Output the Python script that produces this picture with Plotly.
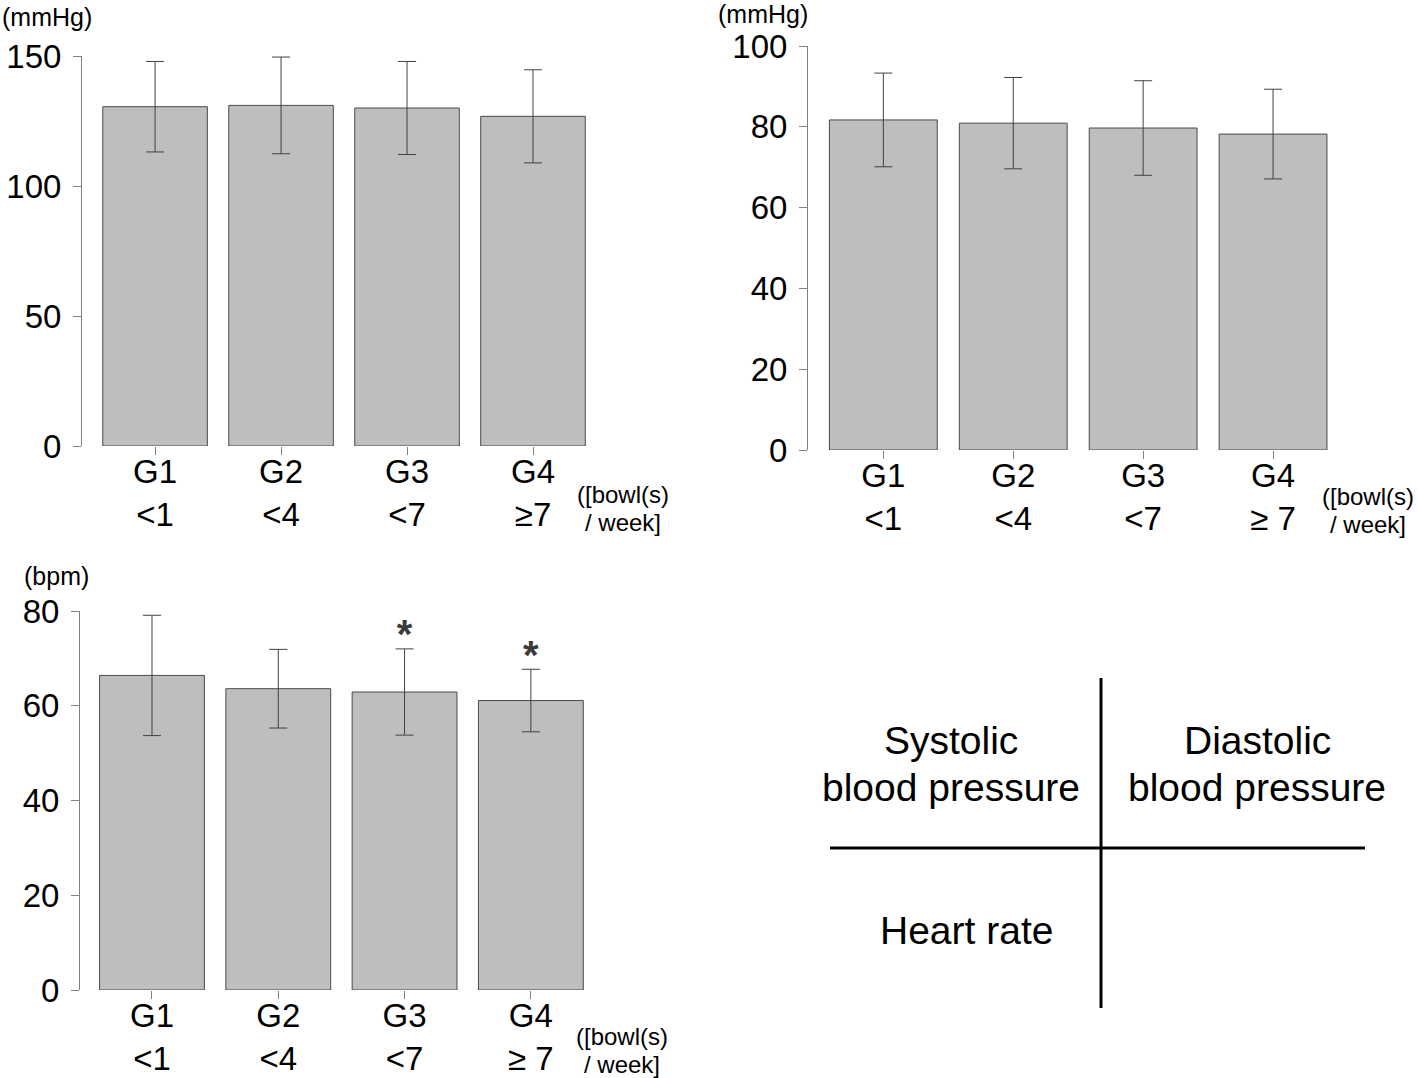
import plotly.graph_objects as go

W, H = 1418, 1078

groups = ["G1", "G2", "G3", "G4"]
bowls_sbp = ["&lt;1", "&lt;4", "&lt;7", "≥7"]
bowls_other = ["&lt;1", "&lt;4", "&lt;7", "≥ 7"]

# systolic blood pressure (mmHg), mean and SD
sbp_mean = [130.5, 131.0, 130.0, 126.8]
sbp_sd = [17.4, 18.6, 17.9, 17.9]

# diastolic blood pressure (mmHg)
dbp_mean = [81.7, 80.9, 79.7, 78.2]
dbp_sd = [11.6, 11.3, 11.7, 11.1]

# heart rate (bpm)
hr_mean = [66.4, 63.6, 62.9, 61.1]
hr_sd = [12.7, 8.3, 9.1, 6.6]
hr_star = ["", "", "<b>*</b>", "<b>*</b>"]

FONT = "Liberation Sans, Arial, sans-serif"


def px(x):
    return x / W


def py(y):
    return 1 - y / H


fig = go.Figure()

panels = [
    (sbp_mean, sbp_sd, "x", "y"),
    (dbp_mean, dbp_sd, "x2", "y2"),
    (hr_mean, hr_sd, "x3", "y3"),
]

for means, sds, xa, ya in panels:
    fig.add_trace(go.Bar(
        x=list(range(len(groups))), y=means,
        xaxis=xa, yaxis=ya,
        marker=dict(color="#bebebe", line=dict(color="#4a4a4a", width=1)),
        error_y=dict(type="data", array=sds, visible=True, color="#404040", thickness=1, width=9),
        showlegend=False, hoverinfo="skip",
    ))

# asterisks above the heart rate bars (placed just over the error bar cap)
star_y = [m + s - 2.0 for m, s in zip(hr_mean, hr_sd)]
fig.add_trace(go.Scatter(
    x=list(range(len(groups))), y=star_y, xaxis="x3", yaxis="y3",
    mode="text", text=hr_star, textposition="top center",
    textfont=dict(size=40, color="#3a3a3a", family=FONT),
    showlegend=False, hoverinfo="skip",
))

axis_common = dict(
    showgrid=False, zeroline=False, automargin=False,
    tickfont=dict(size=33, color="black", family=FONT),
    ticks="outside", tickcolor="#7f7f7f", ticklen=8, tickwidth=1,
)


def xaxis(domain, rng, bw, anchor):
    return dict(
        axis_common, domain=domain, range=rng, anchor=anchor,
        tickvals=list(range(len(groups))),
        ticktext=[f"{g}<br>{b}" for g, b in zip(groups, bw)],
        showline=False, fixedrange=True, ticklabelstandoff=-12,
    )


def yaxis(domain, rng, dtick, anchor):
    return dict(
        axis_common, domain=domain, range=rng, dtick=dtick, anchor=anchor,
        showline=True, linecolor="#7f7f7f", linewidth=1, ticklabelstandoff=5,
    )


fig.update_layout(
    width=W, height=H,
    margin=dict(l=0, r=0, t=0, b=0),
    paper_bgcolor="white", plot_bgcolor="white",
    bargap=0.17,
    font=dict(family=FONT, color="black"),
    xaxis=xaxis([px(82), px(596)], [-0.58, 3.5], bowls_sbp, "y"),
    yaxis=yaxis([py(446), py(56)], [0, 150], 50, "x"),
    xaxis2=xaxis([px(808), px(1338)], [-0.58, 3.5], bowls_other, "y2"),
    yaxis2=yaxis([py(450), py(46)], [0, 100], 20, "x2"),
    xaxis3=xaxis([px(80), px(594)], [-0.57, 3.5], bowls_other, "y3"),
    yaxis3=yaxis([py(990), py(611)], [0, 80], 20, "x3"),
)

ann = []
# unit labels
for text, x, y in [("(mmHg)", 0, 17), ("(mmHg)", 716, 14), ("(bpm)", 22, 576)]:
    ann.append(dict(text=text, x=px(x), y=py(y), xref="paper", yref="paper",
                    showarrow=False, xanchor="left", yanchor="middle", font=dict(size=25)))
# unit of the groups
for x, y in [(623, 494), (1368, 496), (622, 1036)]:
    ann.append(dict(text="([bowl(s)", x=px(x), y=py(y), xref="paper", yref="paper",
                    showarrow=False, xanchor="center", yanchor="middle", font=dict(size=24)))
    ann.append(dict(text="/ week]", x=px(x), y=py(y + 28), xref="paper", yref="paper",
                    showarrow=False, xanchor="center", yanchor="middle", font=dict(size=24)))

# key panel
key = [
    ("Systolic", 951, 740),
    ("blood pressure", 951, 787),
    ("Diastolic", 1257, 740),
    ("blood pressure", 1257, 787),
    ("Heart rate", 966, 930),
]
for text, x, y in key:
    ann.append(dict(text=text, x=px(x), y=py(y), xref="paper", yref="paper",
                    showarrow=False, xanchor="center", yanchor="middle",
                    font=dict(size=39)))
fig.update_layout(annotations=ann)

fig.add_shape(type="line", xref="paper", yref="paper",
              x0=px(1101), x1=px(1101), y0=py(678), y1=py(1008),
              line=dict(color="black", width=3))
fig.add_shape(type="line", xref="paper", yref="paper",
              x0=px(830), x1=px(1365), y0=py(848), y1=py(848),
              line=dict(color="black", width=3))

# page body has a default 8px margin; drop it so the figure fills the window
fig.write_html("out.html", config={"displayModeBar": False},
               post_script="document.body.style.margin='0px';")
